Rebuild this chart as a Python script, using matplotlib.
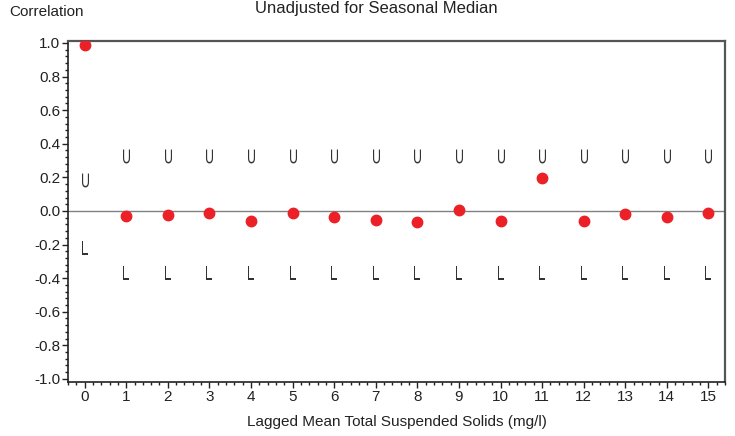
import matplotlib.pyplot as plt
from matplotlib.ticker import MultipleLocator
from matplotlib.textpath import TextPath
from matplotlib.font_manager import FontProperties
from matplotlib.transforms import Affine2D

plt.rcParams['font.family'] = ['Liberation Sans', 'DejaVu Sans']

lags = list(range(16))
corr = [0.988, -0.03, -0.025, -0.015, -0.06, -0.01, -0.035, -0.055,
        -0.065, 0.005, -0.06, 0.195, -0.06, -0.02, -0.035, -0.015]
upper = [0.185] + [0.33] * 15
lower = [-0.22] + [-0.37] * 15


def narrow_glyph(ch):
    # tall, condensed letter used as a marker (like the SAS U/L symbols)
    p = TextPath((0, 0), ch, size=10, prop=FontProperties(family='Liberation Sans'))
    ext = p.get_extents()
    t = Affine2D().translate(-(ext.x0 + ext.x1) / 2, -(ext.y0 + ext.y1) / 2).scale(0.62, 1)
    return t.transform_path(p)


fig = plt.figure(figsize=(7.35, 4.36), dpi=100)
ax = fig.add_axes([0.0925, 0.124, 0.894, 0.782])

ax.axhline(0, color='#808080', lw=1, zorder=1)
ax.plot(lags, corr, 'o', color='#ec2027', markersize=7.5, zorder=3)
ax.plot(lags, upper, linestyle='none', marker=narrow_glyph('U'), markersize=10,
        markerfacecolor='#333333', markeredgewidth=0)
ax.plot(lags, lower, linestyle='none', marker=narrow_glyph('L'), markersize=10,
        markerfacecolor='#333333', markeredgewidth=0)

ax.set_xlim(-0.4, 15.4)
ax.set_ylim(-1.018, 1.012)
ax.set_xticks(lags)
ax.set_yticks([i / 10 for i in range(-10, 11, 2)])
ax.set_yticklabels([f'{i / 10:.1f}' for i in range(-10, 11, 2)])
ax.xaxis.set_minor_locator(MultipleLocator(0.2))
ax.yaxis.set_minor_locator(MultipleLocator(0.04))
ax.tick_params(which='major', direction='out', length=4, width=1,
               labelsize=11, pad=1.5, colors='#222222')
ax.tick_params(which='minor', direction='out', length=2.5, width=1,
               colors='#222222')
ax.tick_params(top=False, right=False, which='both')

for side in ['left', 'bottom']:
    ax.spines[side].set_color('#222222')
    ax.spines[side].set_linewidth(1.2)
for side in ['top', 'right']:
    ax.spines[side].set_color('#555555')
    ax.spines[side].set_linewidth(1.6)

ax.set_xlabel('Lagged Mean Total Suspended Solids (mg/l)', fontsize=11,
              labelpad=8, color='#222222')
fig.text(0.512, 0.98, 'Unadjusted for Seasonal Median', ha='center',
         va='center', fontsize=12, color='#222222')
fig.text(0.012, 0.972, 'Correlation', ha='left', va='center',
         fontsize=11, color='#222222')

fig.savefig('out.png', dpi=100)
